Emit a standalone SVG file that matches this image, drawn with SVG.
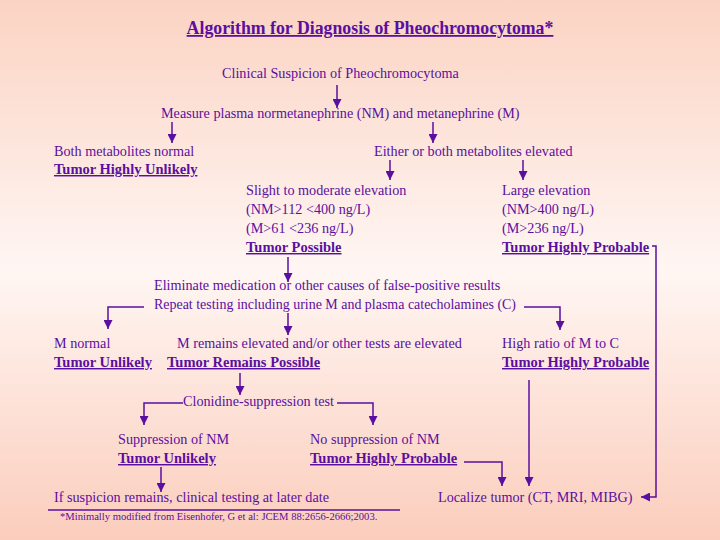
<svg xmlns="http://www.w3.org/2000/svg" width="720" height="540" viewBox="0 0 720 540">
<defs>
<linearGradient id="bg" x1="0" y1="0" x2="0" y2="1">
<stop offset="0" stop-color="#fbd3c3"/>
<stop offset="0.5" stop-color="#fff6f3"/>
<stop offset="1" stop-color="#fbcdbc"/>
</linearGradient>
<marker id="ah" markerUnits="userSpaceOnUse" markerWidth="9" markerHeight="9" refX="9" refY="4.5" orient="auto" viewBox="0 0 9 9">
<path d="M0,0 L9,4.5 L0,9 z" fill="#5a0fa0"/>
</marker>
<style>
text{font-family:"Liberation Serif","Times New Roman",serif;fill:#5a0fa0;font-size:14.2px}
.b{font-weight:bold;text-decoration:underline;font-size:14.5px}
.ti{font-size:17.8px;font-weight:bold;text-decoration:underline}
.fn{font-size:10.6px}
.ln{fill:none;stroke:#5a0fa0;stroke-width:1.5}
.ar{marker-end:url(#ah)}
</style>
</defs>
<rect width="720" height="540" fill="url(#bg)"/>
<g id="title"><text class="ti" x="370" y="34" text-anchor="middle">Algorithm for Diagnosis of Pheochromocytoma*</text></g>
<g id="n-clinical"><text x="222" y="78">Clinical Suspicion of Pheochromocytoma</text></g>
<g id="n-measure"><text x="161" y="118">Measure plasma normetanephrine (NM) and metanephrine (M)</text></g>
<g id="n-normal"><text x="54" y="156">Both metabolites normal</text><text class="b" x="54" y="174">Tumor Highly Unlikely</text></g>
<g id="n-elevated"><text x="374" y="156">Either or both metabolites elevated</text></g>
<g id="n-slight"><text x="246" y="195">Slight to moderate elevation</text><text x="246" y="214">(NM&gt;112 &lt;400 ng/L)</text><text x="246" y="233">(M&gt;61 &lt;236 ng/L)</text><text class="b" x="246" y="252">Tumor Possible</text></g>
<g id="n-large"><text x="502" y="195">Large elevation</text><text x="502" y="214">(NM&gt;400 ng/L)</text><text x="502" y="233">(M&gt;236 ng/L)</text><text class="b" x="502" y="252">Tumor Highly Probable</text></g>
<g id="n-eliminate"><text x="154" y="290">Eliminate medication or other causes of false-positive results</text><text x="154" y="309" textLength="362" lengthAdjust="spacingAndGlyphs">Repeat testing including urine M and plasma catecholamines (C)</text></g>
<g id="n-mnormal"><text x="54" y="348">M normal</text><text class="b" x="54" y="367">Tumor Unlikely</text></g>
<g id="n-mremains"><text x="177" y="348">M remains elevated and/or other tests are elevated</text><text class="b" x="167" y="367">Tumor Remains Possible</text></g>
<g id="n-ratio"><text x="502" y="348">High ratio of M to C</text><text class="b" x="502" y="367">Tumor Highly Probable</text></g>
<g id="n-clonidine"><text x="183" y="406">Clonidine-suppression test</text></g>
<g id="n-suppression"><text x="118" y="444">Suppression of NM</text><text class="b" x="118" y="463">Tumor Unlikely</text></g>
<g id="n-nosuppression"><text x="310" y="444">No suppression of NM</text><text class="b" x="310" y="463">Tumor Highly Probable</text></g>
<g id="n-later"><text x="54" y="502">If suspicion remains, clinical testing at later date</text></g>
<g id="n-localize"><text x="438" y="502">Localize tumor (CT, MRI, MIBG)</text></g>
<g id="footnote"><line class="ln" x1="48" y1="510" x2="400" y2="510" stroke-width="1"/><text class="fn" x="60" y="520">*Minimally modified from Eisenhofer, G et al: JCEM 88:2656-2666;2003.</text></g>
<g id="connectors">
<path class="ln ar" d="M337,85 V108"/>
<path class="ln ar" d="M172,122 V143"/>
<path class="ln ar" d="M433,122 V143"/>
<path class="ln ar" d="M390,160 V180"/>
<path class="ln ar" d="M523,160 V180"/>
<path class="ln ar" d="M652,246 H656 V497 H641"/>
<path class="ln ar" d="M288,257 V282"/>
<path class="ln ar" d="M144,307 H108 V329"/>
<path class="ln ar" d="M288,313 V335"/>
<path class="ln ar" d="M524,307 H560 V330"/>
<path class="ln ar" d="M240,373 V395"/>
<path class="ln ar" d="M183,403 H144 V425"/>
<path class="ln ar" d="M337,403 H373 V425"/>
<path class="ln ar" d="M161,467 V492"/>
<path class="ln ar" d="M464,462 H502 V486"/>
<path class="ln ar" d="M529,380 V486"/>
</g>
</svg>
